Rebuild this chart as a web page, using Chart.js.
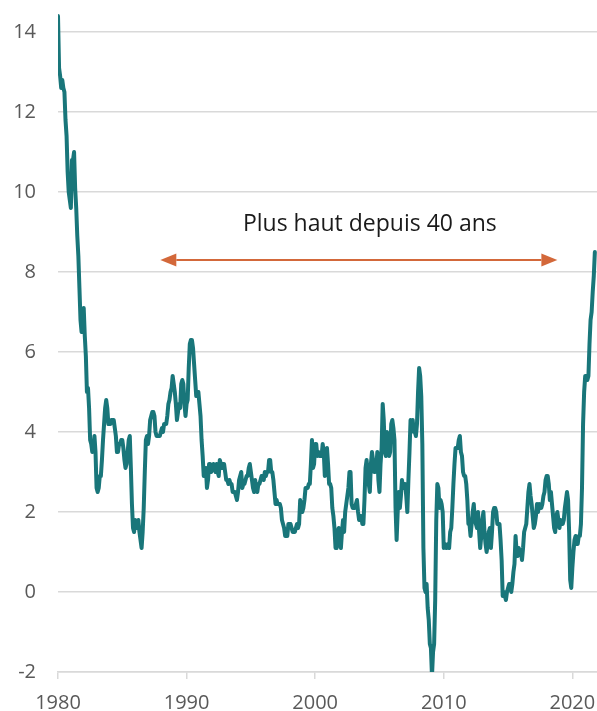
<!DOCTYPE html>
<html>
<head>
<meta charset="utf-8">
<script src="https://cdn.jsdelivr.net/npm/chart.js@4/dist/chart.umd.min.js"></script>
<style>
  html, body { margin: 0; padding: 0; background: #fff; }
  #wrap { width: 597px; height: 711px; }
</style>
</head>
<body>
<div id="wrap"><canvas id="chart"></canvas></div>
<script>
// Inflation annuelle (%), mensuel, de juin 1980 à mars 2022
const cpi1980s = [
  14.4, 13.1, 12.9, 12.6, 12.8, 12.6, 12.5,
  11.8, 11.4, 10.5, 10.0, 9.8, 9.6, 10.8, 10.8, 11.0, 10.1, 9.6, 8.9,
  8.4, 7.6, 6.8, 6.5, 6.7, 7.1, 6.4, 5.9, 5.0, 5.1, 4.6, 3.8,
  3.7, 3.5, 3.6, 3.9, 3.5, 2.6, 2.5, 2.6, 2.9, 2.9, 3.3, 3.8,
  4.2, 4.6, 4.8, 4.6, 4.2, 4.2, 4.2, 4.3, 4.3, 4.3, 4.1, 3.9,
  3.5, 3.5, 3.7, 3.7, 3.8, 3.8, 3.6, 3.3, 3.1, 3.2, 3.5, 3.8,
  3.9, 3.1, 2.2, 1.6, 1.5, 1.8, 1.6, 1.6, 1.8, 1.5, 1.3, 1.1,
  1.5, 2.1, 3.0, 3.8, 3.9, 3.7, 3.9, 4.3, 4.4, 4.5, 4.5, 4.4,
  4.0, 3.9, 3.9, 3.9, 3.9, 4.0, 4.1, 4.0, 4.2, 4.2, 4.2, 4.4,
  4.7, 4.8, 5.0, 5.1, 5.4, 5.2, 5.0, 4.7, 4.3, 4.5, 4.7, 4.6
];
const cpi1990s = [
  5.2, 5.3, 5.2, 4.7, 4.4, 4.7, 4.8, 5.6, 6.2, 6.3, 6.3, 6.1,
  5.7, 5.3, 4.9, 4.9, 5.0, 4.7, 4.4, 3.8, 3.4, 2.9, 3.0, 3.1,
  2.6, 2.8, 3.2, 3.2, 3.0, 3.1, 3.2, 3.1, 3.0, 3.2, 3.0, 2.9,
  3.3, 3.2, 3.1, 3.2, 3.2, 3.0, 2.8, 2.8, 2.7, 2.8, 2.7, 2.7,
  2.5, 2.5, 2.5, 2.4, 2.3, 2.5, 2.8, 2.9, 3.0, 2.6, 2.7, 2.7,
  2.8, 2.9, 2.9, 3.1, 3.2, 3.0, 2.8, 2.6, 2.5, 2.8, 2.6, 2.5,
  2.7, 2.7, 2.8, 2.9, 2.9, 2.8, 3.0, 2.9, 3.0, 3.0, 3.3, 3.3,
  3.0, 3.0, 2.8, 2.5, 2.2, 2.3, 2.2, 2.2, 2.2, 2.1, 1.8, 1.7,
  1.6, 1.4, 1.4, 1.4, 1.7, 1.7, 1.7, 1.6, 1.5, 1.5, 1.5, 1.6,
  1.7, 1.6, 1.7, 2.3, 2.1, 2.0, 2.1, 2.3, 2.6, 2.6, 2.6, 2.7
];
const cpi2000s = [
  2.7, 3.2, 3.8, 3.1, 3.2, 3.7, 3.7, 3.4, 3.5, 3.4, 3.4, 3.4,
  3.7, 3.5, 2.9, 3.3, 3.6, 3.2, 2.7, 2.7, 2.6, 2.1, 1.9, 1.6,
  1.1, 1.1, 1.5, 1.6, 1.2, 1.1, 1.5, 1.8, 1.5, 2.0, 2.2, 2.4,
  2.6, 3.0, 3.0, 2.2, 2.1, 2.1, 2.1, 2.2, 2.3, 2.0, 1.8, 1.9,
  1.9, 1.7, 1.7, 2.3, 3.1, 3.3, 3.0, 2.7, 2.5, 3.2, 3.5, 3.3,
  3.0, 3.0, 3.1, 3.5, 2.8, 2.5, 3.2, 3.6, 4.7, 4.3, 3.5, 3.4,
  4.0, 3.6, 3.4, 3.5, 4.2, 4.3, 4.1, 3.8, 2.1, 1.3, 2.0, 2.5,
  2.1, 2.4, 2.8, 2.6, 2.7, 2.7, 2.4, 2.0, 2.8, 3.5, 4.3, 4.1,
  4.3, 4.0, 4.0, 3.9, 4.2, 5.0, 5.6, 5.4, 4.9, 3.7, 1.1, 0.1,
  0.0, 0.2, -0.4, -0.7, -1.3, -1.4, -2.1, -1.5, -1.3, -0.2, 1.8, 2.7
];
const cpi2010s = [
  2.6, 2.1, 2.3, 2.2, 2.0, 1.1, 1.2, 1.1, 1.1, 1.2, 1.1, 1.5,
  1.6, 2.1, 2.7, 3.2, 3.6, 3.6, 3.6, 3.8, 3.9, 3.5, 3.4, 3.0,
  2.9, 2.9, 2.7, 2.3, 1.7, 1.7, 1.4, 1.7, 2.0, 2.2, 1.8, 1.7,
  1.6, 2.0, 1.5, 1.1, 1.4, 1.8, 2.0, 1.5, 1.2, 1.0, 1.2, 1.5,
  1.6, 1.1, 1.5, 2.0, 2.1, 2.1, 2.0, 1.7, 1.7, 1.7, 1.3, 0.8,
  -0.1, 0.0, -0.1, -0.2, 0.0, 0.1, 0.2, 0.2, 0.0, 0.2, 0.5, 0.7,
  1.4, 1.0, 0.9, 1.1, 1.0, 1.0, 0.8, 1.1, 1.5, 1.6, 1.7, 2.1,
  2.5, 2.7, 2.4, 2.2, 1.9, 1.6, 1.7, 1.9, 2.2, 2.0, 2.2, 2.1,
  2.1, 2.2, 2.4, 2.5, 2.8, 2.9, 2.9, 2.7, 2.3, 2.5, 2.2, 1.9,
  1.6, 1.5, 1.9, 2.0, 1.8, 1.6, 1.8, 1.7, 1.7, 1.8, 2.1, 2.3
];
const cpi2020s = [
  2.5, 2.3, 1.5, 0.3, 0.1, 0.6, 1.0, 1.3, 1.4, 1.2, 1.2, 1.4,
  1.4, 1.7, 2.6, 4.2, 5.0, 5.4, 5.4, 5.3, 5.4, 6.2, 6.8, 7.0,
  7.5, 7.9, 8.5
];

const yearLabels = ['1980', '1990', '2000', '2010', '2020'];
const noteText = 'Plus haut depuis 40 ans';
// flèche : début / fin en mois depuis le départ, niveau en %
const arrowFrom = 95.5, arrowTo = 466, arrowLevel = 8.3;
const noteX = 291, noteY = 9.02;

const values = [...cpi1980s, ...cpi1990s, ...cpi2000s, ...cpi2010s, ...cpi2020s];
const points = values.map((v, i) => ({ x: i, y: v }));

const FONT = '"Open Sans", "Noto Sans", sans-serif';

const notePlugin = {
  id: 'note',
  afterDatasetsDraw(chart) {
    const { ctx, scales: { x, y } } = chart;
    const x1 = x.getPixelForValue(arrowFrom);
    const x2 = x.getPixelForValue(arrowTo);
    const yy = y.getPixelForValue(arrowLevel);
    const head = 16, half = 6.5;
    ctx.save();
    ctx.strokeStyle = '#d3683a';
    ctx.fillStyle = '#d3683a';
    ctx.lineWidth = 2;
    ctx.beginPath();
    ctx.moveTo(x1 + head, yy);
    ctx.lineTo(x2 - head, yy);
    ctx.stroke();
    ctx.beginPath();
    ctx.moveTo(x1, yy);
    ctx.lineTo(x1 + head, yy - half);
    ctx.lineTo(x1 + head, yy + half);
    ctx.closePath();
    ctx.fill();
    ctx.beginPath();
    ctx.moveTo(x2, yy);
    ctx.lineTo(x2 - head, yy - half);
    ctx.lineTo(x2 - head, yy + half);
    ctx.closePath();
    ctx.fill();
    ctx.fillStyle = '#1a1a1a';
    ctx.font = '23px ' + FONT;
    ctx.textAlign = 'center';
    ctx.textBaseline = 'alphabetic';
    ctx.fillText(noteText, x.getPixelForValue(noteX), y.getPixelForValue(noteY));
    ctx.restore();
  }
};

new Chart(document.getElementById('chart'), {
  type: 'line',
  data: {
    datasets: [{
      data: points,
      borderColor: '#19767a',
      borderWidth: 4,
      pointRadius: 0,
      tension: 0,
      borderJoinStyle: 'round',
      borderCapStyle: 'round'
    }]
  },
  options: {
    responsive: true,
    maintainAspectRatio: false,
    animation: false,
    layout: { padding: { top: 12, right: 0, left: 0, bottom: 0 } },
    plugins: { legend: { display: false }, tooltip: { enabled: false } },
    scales: {
      x: {
        type: 'linear',
        min: 0,
        max: 503,
        afterFit(s) { s.height = 39; s.paddingLeft = 0; s.paddingRight = 0; },
        grid: { drawOnChartArea: false, color: '#d9d9d9', tickLength: 7, lineWidth: 1.5 },
        border: { color: '#d9d9d9', width: 1.5 },
        ticks: {
          stepSize: 120,
          includeBounds: false,
          autoSkip: false,
          maxRotation: 0,
          padding: 12,
          color: '#595959',
          font: { family: FONT, size: 20 },
          callback: (v) => yearLabels[Math.round(v / 120)]
        }
      },
      y: {
        min: -2,
        max: 14.5,
        afterFit(s) { s.width = 58; s.paddingTop = 0; s.paddingBottom = 0; },
        grid: { color: '#d9d9d9', lineWidth: 1.5, drawTicks: false },
        border: { display: false },
        ticks: {
          stepSize: 2,
          includeBounds: false,
          padding: 22,
          color: '#595959',
          font: { family: FONT, size: 20 }
        }
      }
    }
  },
  plugins: [notePlugin]
});
</script>
</body>
</html>
